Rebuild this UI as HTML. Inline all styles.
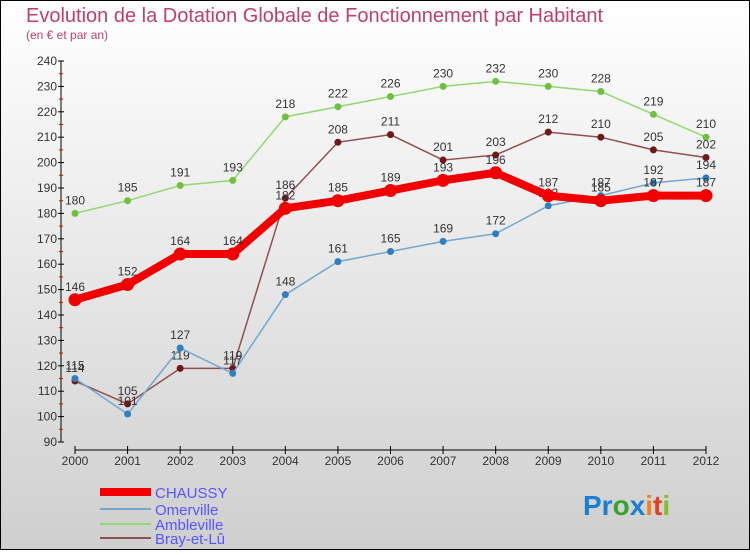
<!DOCTYPE html>
<html><head><meta charset="utf-8"><style>
body{margin:0}
svg text{font-family:"Liberation Sans",sans-serif}
</style></head><body>
<svg width="750" height="550" xmlns="http://www.w3.org/2000/svg">
<defs><linearGradient id="bg" x1="0" y1="0" x2="0" y2="1"><stop offset="0" stop-color="#ffffff"/><stop offset="1" stop-color="#cfcfcf"/></linearGradient></defs>
<rect x="0.5" y="0.5" width="749" height="549" fill="url(#bg)" stroke="#000"/>
<text x="26" y="22" font-size="20" fill="#c0406a">Evolution de la Dotation Globale de Fonctionnement par Habitant</text>
<text x="26" y="39" font-size="12" fill="#c0406a">(en € et par an)</text>
<g id="axes"></g>
<g id="series"></g>
<g id="legend"></g>
<text x="583" y="515" font-size="28" font-weight="bold"><tspan fill="#1a7fd0">Pr</tspan><tspan fill="#3aa030">o</tspan><tspan fill="#1a7fd0">x</tspan><tspan fill="#f08020">i</tspan><tspan fill="#e04020">t</tspan><tspan fill="#80c030">i</tspan></text>
</svg>
<script>
const years=[2000,2001,2002,2003,2004,2005,2006,2007,2008,2009,2010,2011,2012];
const yTicks=[90,100,110,120,130,140,150,160,170,180,190,200,210,220,230,240];
const chaussy=[146,152,164,164,182,185,189,193,196,187,185,187,187];
const omerville=[115,101,127,117,148,161,165,169,172,183,187,192,194];
const ambleville=[180,185,191,193,218,222,226,230,232,230,228,219,210];
const bray=[114,105,119,119,186,208,211,201,203,212,210,205,202];
const NS="http://www.w3.org/2000/svg";
const x0=75,x1=706,yTop=61,yBot=442;
const X=i=>x0+(x1-x0)*i/(years.length-1);
const Y=v=>yBot-(v-90)*(yBot-yTop)/150;
function mk(t,a,p){const e=document.createElementNS(NS,t);for(const k in a)e.setAttribute(k,a[k]);p.appendChild(e);return e;}
const axes=document.getElementById('axes');
let e=mk('line',{x1:61,y1:yTop,x2:61,y2:yBot,stroke:'#000'},axes);


yTicks.forEach(v=>{
 let t=mk('line',{x1:58,x2:64,y1:Y(v),y2:Y(v),stroke:'#000'},axes);
 
 
 if(v<240){let m=mk('line',{x1:59,x2:63,y1:Y(v+5),y2:Y(v+5),stroke:'#e00'},axes);
 
 }
 let l=mk('text',{x:57,y:Y(v)+4,'font-size':12,fill:'#333','text-anchor':'end'},axes);l.textContent=v;
 
 
});
e=mk('line',{x1:x0,y1:450,x2:x1,y2:450,stroke:'#000'},axes);


years.forEach((y,i)=>{
 let t=mk('line',{x1:X(i),x2:X(i),y1:446,y2:454,stroke:'#000'},axes);
 
 
 let l=mk('text',{x:X(i),y:465,'font-size':12,fill:'#333','text-anchor':'middle'},axes);l.textContent=y;
 
 
});
const sg=document.getElementById('series');
const defs=[
 {n:'ambleville',d:ambleville,c:'#90d870',dot:'#70c040',w:1.5,r:3.5},
 {n:'bray-et-lu',d:bray,c:'#905050',dot:'#701818',w:1.5,r:3.5},
 {n:'omerville',d:omerville,c:'#70a8d0',dot:'#3080c0',w:1.5,r:3.5},
 {n:'chaussy',d:chaussy,c:'#f00000',dot:'#f00000',w:8,r:6.5}];
defs.forEach(s=>{
 let p=mk('polyline',{points:s.d.map((v,i)=>X(i)+','+Y(v)).join(' '),fill:'none',stroke:s.c,'stroke-width':s.w,'stroke-linejoin':'round'},sg);
 
 
 s.d.forEach((v,i)=>{
  let c=mk('circle',{cx:X(i),cy:Y(v),r:s.r,fill:s.dot},sg);
  
  
  let t=mk('text',{x:X(i),y:Y(v)-9,'font-size':12,fill:'#333','text-anchor':'middle'},sg);t.textContent=v;
  
  
 });
});
const lg=document.getElementById('legend');
[['CHAUSSY','#f00000',8,492],['Omerville','#70a8d0',2,509],['Ambleville','#90d870',2,524],['Bray-et-Lû','#905050',2,538]].forEach(a=>{
 let l=mk('line',{x1:100,x2:151,y1:a[3],y2:a[3],stroke:a[1],'stroke-width':a[2]},lg);
 
 
 let t=mk('text',{x:155,y:a[3]+6,'font-size':15,fill:'#5555ff'},lg);t.textContent=a[0];
 
 
});
</script>
</body></html>
